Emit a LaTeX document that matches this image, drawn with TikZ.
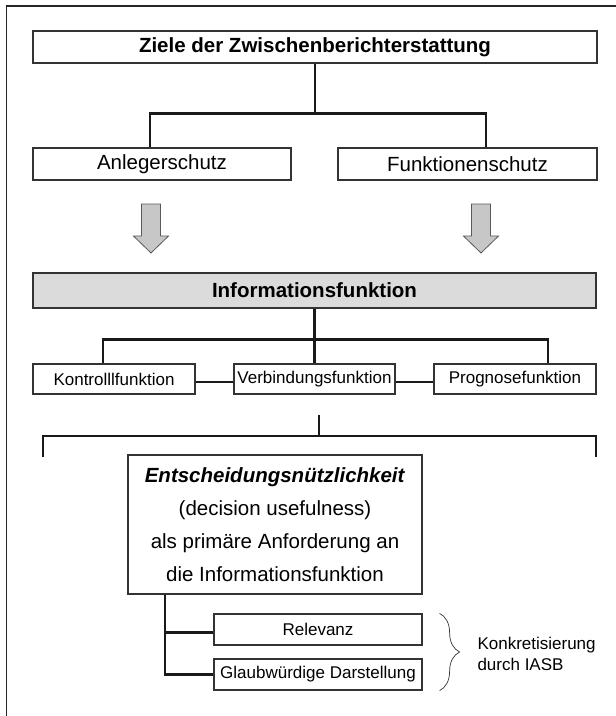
\documentclass[tikz,border=0pt]{standalone}
\usepackage{fontspec}
\setmainfont{Liberation Sans}
\usepackage{tikz}
\usetikzlibrary{calc,decorations.pathreplacing}
\newcommand{\gross}{\fontsize{20.5}{33}\selectfont}
\newcommand{\klein}{\fontsize{17}{21}\selectfont}

\begin{document}
\begin{tikzpicture}[x=1pt, y=-1pt,
    kasten/.style={draw=black!80, line width=1.2pt, fill=white, inner sep=0pt, anchor=center},
    linie/.style={black!90, line width=2.4pt},
    pfeil/.style={draw=black!65, fill=black!22, line width=0.8pt, line join=miter}]
    \useasboundingbox (0,0) rectangle (616,716);

    % Rahmen (rechts und unten abgeschnitten)
    \draw[black!85, line width=1.4pt] (616,6) -- (6.5,6) -- (6.5,716);

    % Ziele und Schutzzwecke
    \node[kasten, minimum width=564pt, minimum height=32pt, font=\gross\bfseries] (ziele) at (315,47) {Ziele der Zwischenberichterstattung};
    \node[kasten, minimum width=258pt, minimum height=32pt, font=\gross] (anleger) at (162,164) {Anlegerschutz};
    \node[kasten, minimum width=259pt, minimum height=32pt, font=\gross] (funktion) at (467.5,164) {Funktionenschutz};
    \draw[linie] (ziele.south) -- ++(0,50) coordinate (z1);
    \draw[linie] ([xshift=-12pt]anleger.north) |- (z1) -| ([xshift=18.5pt]funktion.north);

    % Blockpfeile nach unten
    \foreach \x in {151,481}
        \draw[pfeil] (\x-9.5,204) -- (\x+9.5,204) -- (\x+9.5,236) -- (\x+17.5,236)
            -- (\x,253) -- (\x-17.5,236) -- (\x-9.5,236) -- cycle;

    % Informationsfunktion
    \node[kasten, fill=black!14, minimum width=563pt, minimum height=35pt, font=\gross\bfseries] (info) at (314.5,290.5) {Informationsfunktion};
    \node[kasten, minimum width=162pt, minimum height=30pt, font=\klein] (kontroll) at (114,379) {Kontrolllfunktion};
    \node[kasten, minimum width=161pt, minimum height=30pt, font=\klein] (verbindung) at (314.5,379) {Verbindungsfunktion};
    \node[kasten, minimum width=162pt, minimum height=30pt, font=\klein] (prognose) at (515,379) {Prognosefunktion};
    \draw[linie] (info.south) -- ++(0,31) coordinate (i1) -- (verbindung.north);
    \draw[linie] ([xshift=-11pt]kontroll.north) |- (i1) -| ([xshift=33pt]prognose.north);
    \draw[linie] ([yshift=-3pt]kontroll.east) -- ([yshift=-3pt]verbindung.west);
    \draw[linie] ([yshift=-3pt]verbindung.east) -- ([yshift=-3pt]prognose.west);

    % Klammer
    \coordinate (k0) at (319,415);
    \draw[linie] (k0) -- ++(0,21) coordinate (k1);
    \draw[linie] (43,457) |- (k1) -| (596,457);

    % Entscheidungsnuetzlichkeit
    \node[kasten, minimum width=294pt, minimum height=139pt, align=center, font=\gross] (entscheidung) at (275,524.5)
        {\textbf{\textit{Entscheidungsnützlichkeit}}\\(decision usefulness)\\als primäre Anforderung an\\die Informationsfunktion};
    \node[kasten, minimum width=208pt, minimum height=31pt, font=\klein] (relevanz) at (318,629.5) {Relevanz};
    \node[kasten, minimum width=208pt, minimum height=31pt, font=\klein] (glaub) at (318,674.5) {Glaubwürdige Darstellung};
    \draw[linie] ([xshift=-110pt]entscheidung.south) coordinate (e1) |- (glaub.west);
    \draw[linie] ([yshift=-3pt]relevanz.west) -| (e1);

    % IASB
    \draw[black!80, line width=0.7pt, decorate, decoration={brace, amplitude=20pt}]
        ([xshift=17pt]relevanz.north east) -- ([xshift=17pt]glaub.south east);
    \node[anchor=west, align=left, font=\klein] (iasb) at (474,653.5) {Konkretisierung\\durch IASB};
\end{tikzpicture}
\end{document}
